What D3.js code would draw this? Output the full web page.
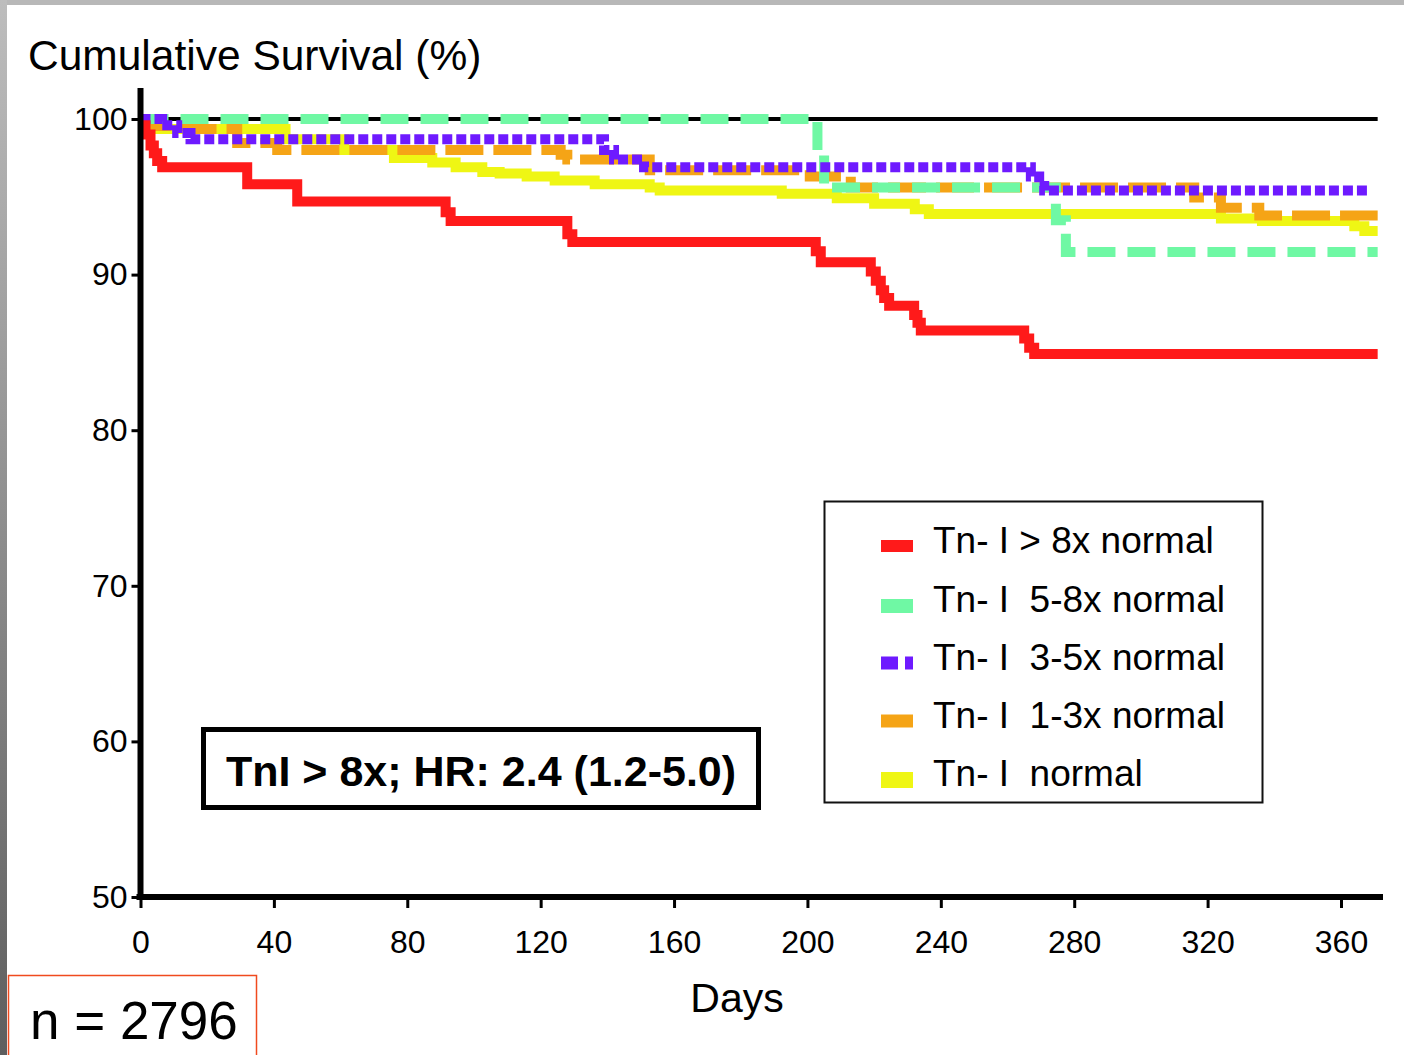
<!DOCTYPE html>
<html>
<head>
<meta charset="utf-8">
<script src="https://cdn.jsdelivr.net/npm/d3@7"></script>
<style>
  html, body { margin: 0; padding: 0; background: #fff; }
  svg { display: block; }
  text { font-family: "Liberation Sans", Arial, sans-serif; }
</style>
</head>
<body>
<svg id="chart" width="1404" height="1055"></svg>
<script>
// ---------- data ----------
const xTicks = [0, 40, 80, 120, 160, 200, 240, 280, 320, 360];
const yTicks = [50, 60, 70, 80, 90, 100];

const seriesNames = ["Tn- I > 8x normal", "Tn- I  5-8x normal", "Tn- I  3-5x normal", "Tn- I  1-3x normal", "Tn- I  normal"];
const seriesColors = ["#ff1a1a", "#6ff8a4", "#6e1aff", "#f5a416", "#eff614"];

const redDays  = [0, 1.5, 3, 4, 5, 6.5, 32, 47, 91.5, 93, 128, 129.5, 202.5, 204, 219, 220.5, 222, 223, 224.5, 232, 233, 234, 265, 266.5, 268, 371];
const redSurv  = [99.6, 99.0, 98.3, 97.8, 97.3, 96.9, 95.8, 94.7, 94.0, 93.45, 92.6, 92.1, 91.5, 90.8, 90.2, 89.6, 89.0, 88.5, 88.0, 87.4, 86.9, 86.4, 85.9, 85.3, 84.9, 84.9];

const greenDays = [0, 203, 205, 274.5, 277.5, 371];
const greenSurv = [100, 98.0, 95.6, 93.5, 91.45, 91.45];

const purpleDays = [0, 6.5, 11, 15, 139, 142, 151, 267, 269.5, 271, 368];
const purpleSurv = [100, 99.6, 99.1, 98.7, 98.0, 97.4, 96.9, 96.3, 95.7, 95.4, 95.4];

const orangeDays = [0, 3.5, 14.5, 29, 41, 126, 128, 152.7, 200.7, 213, 316, 324, 335.5, 371];
const orangeSurv = [100, 99.55, 99.36, 98.45, 98.0, 97.7, 97.4, 96.7, 96.3, 95.6, 94.95, 94.3, 93.8, 93.8];

const yellowDays = [0, 4, 43.5, 61, 76, 87.5, 94.5, 102.5, 107.7, 115.8, 124.2, 136.2, 152.7, 155.7, 192.3, 208.8, 220, 232.2, 236.4, 324, 336.3, 364, 367, 371];
const yellowSurv = [99.8, 99.36, 98.7, 98.0, 97.5, 97.2, 96.9, 96.6, 96.5, 96.3, 96.05, 95.8, 95.6, 95.4, 95.2, 94.9, 94.55, 94.2, 93.9, 93.6, 93.45, 93.1, 92.8, 92.8];

const refDays = [0, 371];
const refSurv = [100, 100];

// ---------- scales ----------
const svg = d3.select("#chart");
const x = d3.scaleLinear().domain([0, 372.6]).range([140.5, 1383]);
const y = d3.scaleLinear().domain([50, 100]).range([897, 119]);

// ---------- page frame ----------
const defs = svg.append("defs");
const grad = defs.append("linearGradient").attr("id", "leftGrad").attr("x1", 0).attr("y1", 0).attr("x2", 0).attr("y2", 1);
grad.append("stop").attr("offset", "0%").attr("stop-color", "#bdbdbd");
grad.append("stop").attr("offset", "100%").attr("stop-color", "#5e5e5e");
svg.append("rect").attr("x", 0).attr("y", 0).attr("width", 1404).attr("height", 5).attr("fill", "#b8b8b8");
svg.append("rect").attr("x", 0).attr("y", 0).attr("width", 7).attr("height", 1055).attr("fill", "url(#leftGrad)");

// ---------- title ----------
svg.append("text").attr("x", 28).attr("y", 70).attr("font-size", 42.5).attr("fill", "#000")
  .text("Cumulative Survival (%)");

// ---------- 100% reference line ----------
const line = d3.line().x(d => x(d[0])).y(d => y(d[1])).curve(d3.curveStepAfter);
svg.append("path").attr("d", line(d3.zip(refDays, refSurv)))
  .attr("fill", "none").attr("stroke", "#000").attr("stroke-width", 4);

// ---------- series ----------
const series = [
  { days: yellowDays, surv: yellowSurv, color: seriesColors[4], dash: null },
  { days: orangeDays, surv: orangeSurv, color: seriesColors[3], dash: "38,10" },
  { days: greenDays,  surv: greenSurv,  color: seriesColors[1], dash: "28,12" },
  { days: purpleDays, surv: purpleSurv, color: seriesColors[2], dash: "10,4" },
  { days: redDays,    surv: redSurv,    color: seriesColors[0], dash: null }
];
series.forEach(s => {
  svg.append("path").attr("d", line(d3.zip(s.days, s.surv)))
    .attr("fill", "none").attr("stroke", s.color).attr("stroke-width", 10)
    .attr("stroke-linejoin", "miter").attr("stroke-linecap", "butt")
    .attr("stroke-dasharray", s.dash);
});

// ---------- axes ----------
const xAxis = d3.axisBottom(x).tickValues(xTicks).tickSize(11).tickPadding(22).tickSizeOuter(0);
const gx = svg.append("g").attr("transform", `translate(0,${y(50)})`).call(xAxis);
gx.select(".domain").remove();
gx.selectAll(".tick line").attr("stroke", "#000").attr("stroke-width", 3);
gx.selectAll(".tick text").attr("font-size", 32).attr("fill", "#000")
  .attr("font-family", "'Liberation Sans Narrow', 'Liberation Sans', Arial, sans-serif");

const yAxis = d3.axisLeft(y).tickValues(yTicks).tickSize(9).tickPadding(4).tickSizeOuter(0);
const gy = svg.append("g").attr("transform", `translate(${x(0)},0)`).call(yAxis);
gy.select(".domain").remove();
gy.selectAll(".tick line").attr("stroke", "#000").attr("stroke-width", 3);
gy.selectAll(".tick text").attr("font-size", 32).attr("fill", "#000")
  .attr("font-family", "'Liberation Sans Narrow', 'Liberation Sans', Arial, sans-serif");

// axis lines
svg.append("line").attr("x1", x(0)).attr("x2", x(0)).attr("y1", y(50) + 3).attr("y2", y(102))
  .attr("stroke", "#000").attr("stroke-width", 6);
svg.append("line").attr("x1", x(0) - 4).attr("x2", x(372.6)).attr("y1", y(50)).attr("y2", y(50))
  .attr("stroke", "#000").attr("stroke-width", 6);

// ---------- axis title ----------
svg.append("text").attr("x", 737).attr("y", 1012).attr("text-anchor", "middle").attr("font-size", 41)
  .attr("fill", "#000").text("Days");

// ---------- HR box ----------
svg.append("rect").attr("x", 203.5).attr("y", 729.5).attr("width", 555).attr("height", 78)
  .attr("fill", "#fff").attr("stroke", "#000").attr("stroke-width", 5);
svg.append("text").attr("x", 481).attr("y", 786).attr("text-anchor", "middle").attr("font-size", 43)
  .attr("font-weight", "bold").attr("fill", "#000").text("TnI > 8x; HR: 2.4 (1.2-5.0)");

// ---------- legend ----------
svg.append("rect").attr("x", 824.5).attr("y", 501.5).attr("width", 438).attr("height", 301)
  .attr("fill", "#fff").attr("stroke", "#111").attr("stroke-width", 2);
const legendRows = [
  { name: seriesNames[0], color: seriesColors[0], dash: null, sw: 12, base: 553 },
  { name: seriesNames[1], color: seriesColors[1], dash: null, sw: 14, base: 612 },
  { name: seriesNames[2], color: seriesColors[2], dash: "17,7", sw: 13, base: 670 },
  { name: seriesNames[3], color: seriesColors[3], dash: null, sw: 13, base: 728 },
  { name: seriesNames[4], color: seriesColors[4], dash: null, sw: 16, base: 786 }
];
const lg = svg.append("g");
legendRows.forEach(r => {
  lg.append("line").attr("x1", 881).attr("x2", 913)
    .attr("y1", r.base - 7 + (r.sw > 13 ? 1 : 0)).attr("y2", r.base - 7 + (r.sw > 13 ? 1 : 0))
    .attr("stroke", r.color).attr("stroke-width", r.sw).attr("stroke-dasharray", r.dash);
  lg.append("text").attr("x", 933).attr("y", r.base).attr("font-size", 37).attr("fill", "#000")
    .style("white-space", "pre").attr("xml:space", "preserve").text(r.name);
});

// ---------- n box ----------
svg.append("rect").attr("x", 8.5).attr("y", 975.5).attr("width", 248).attr("height", 90)
  .attr("fill", "#fff").attr("stroke", "#f04a1e").attr("stroke-width", 1.5);
svg.append("text").attr("x", 30).attr("y", 1039).attr("font-size", 53).attr("fill", "#000").text("n = 2796");
</script>
</body>
</html>
